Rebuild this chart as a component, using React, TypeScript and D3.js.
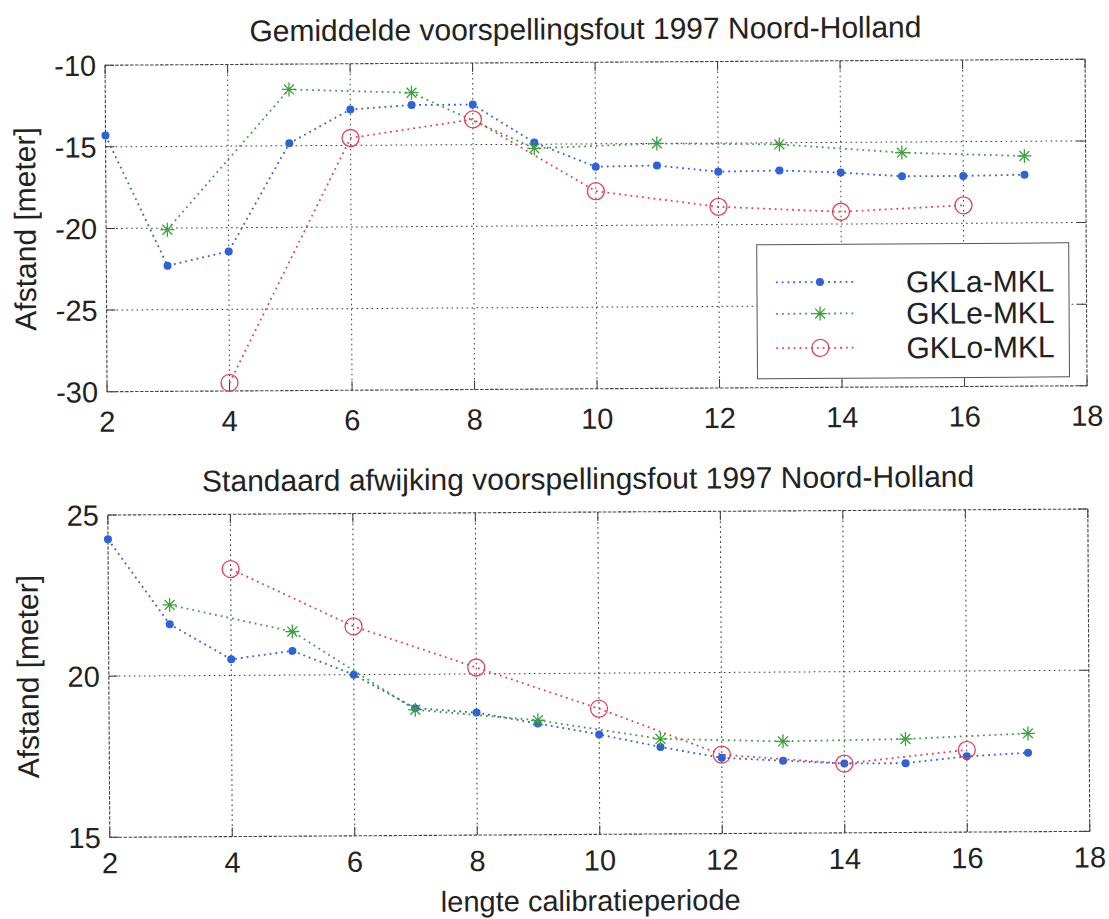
import React from "react";
import * as d3 from "d3";

// ---------- data ----------
const xA = [2, 3, 4, 5, 6, 7, 8, 9, 10, 11, 12, 13, 14, 15, 16, 17];
const xE = [3, 5, 7, 9, 11, 13, 15, 17];
const xO = [4, 6, 8, 10, 12, 14, 16];

const meanA = [-14.3, -22.3, -21.45, -14.85, -12.8, -12.55, -12.55, -14.9, -16.4, -16.35, -16.75, -16.7, -16.85, -17.1, -17.1, -17.05];
const meanE = [-20.1, -11.55, -11.8, -15.25, -15.0, -15.1, -15.65, -15.9];
const meanO = [-29.5, -14.55, -13.45, -17.9, -18.9, -19.25, -18.9];

const stdA = [24.25, 21.6, 20.5, 20.75, 20.0, 18.95, 18.8, 18.45, 18.1, 17.7, 17.35, 17.25, 17.15, 17.15, 17.35, 17.45];
const stdE = [22.2, 21.35, 18.9, 18.55, 17.95, 17.85, 17.9, 18.05];
const stdO = [23.3, 21.5, 20.2, 18.9, 17.45, 17.15, 17.55];

const seriesNames = ["GKLa-MKL", "GKLe-MKL", "GKLo-MKL"];
const xTicks = [2, 4, 6, 8, 10, 12, 14, 16, 18];
const yTicksTop = [-30, -25, -20, -15, -10];
const yTicksBottom = [15, 20, 25];

const titleTop = "Gemiddelde voorspellingsfout 1997 Noord-Holland";
const titleBottom = "Standaard afwijking voorspellingsfout 1997 Noord-Holland";
const yLabel = "Afstand [meter]";
const xLabel = "lengte calibratieperiode";

// ---------- style ----------
const FONT = "'Liberation Sans', Arial, Helvetica, sans-serif";
const COLORS = ["#2d62d8", "#3f9f3f", "#e4405a"];
const MARKERS = ["dot", "star", "circle"];
const GRID = "#3a3a3a";

const X0 = 107.5;
const X1 = 1087.5;

function Marker({ type, x, y, color }: { type: string; x: number; y: number; color: string }) {
  if (type === "dot") return <circle cx={x} cy={y} r={4} fill={color} />;
  if (type === "circle")
    return <circle cx={x} cy={y} r={8.5} fill="none" stroke={color} strokeWidth={1.3} />;
  const r = 7;
  const d2 = r * Math.SQRT1_2;
  const p = `M${x - r},${y}L${x + r},${y}M${x},${y - r}L${x},${y + r}M${x - d2},${y - d2}L${x + d2},${y + d2}M${x - d2},${y + d2}L${x + d2},${y - d2}`;
  return <path d={p} stroke={color} strokeWidth={1.3} fill="none" />;
}

type Series = { xs: number[]; ys: number[] };

function Panel({
  top,
  bottom,
  yDomain,
  yTicks,
  title,
  series,
  legend,
  tickGap,
}: {
  top: number;
  bottom: number;
  yDomain: [number, number];
  yTicks: number[];
  title: string;
  series: Series[];
  legend: boolean;
  tickGap: number;
}) {
  const x = d3.scaleLinear().domain([2, 18]).range([X0, X1]);
  const y = d3.scaleLinear().domain(yDomain).range([bottom, top]);
  const line = d3
    .line<[number, number]>()
    .x((d) => x(d[0]))
    .y((d) => y(d[1]));
  const tickLen = 9;

  // legend layout (pixel positions)
  const lg = { x: 758, y: 246, w: 312, h: 134, rows: [283.7, 315.2, 349.5], l0: 777, l1: 858, m: 821, tx: 907 };

  return (
    <g>
      {/* grid */}
      {xTicks.slice(1, -1).map((t) => (
        <line key={"gx" + t} x1={x(t)} x2={x(t)} y1={top} y2={bottom} stroke={GRID} strokeWidth={1} strokeDasharray="1.6,3.4" />
      ))}
      {yTicks.slice(1, -1).map((t) => (
        <line key={"gy" + t} x1={X0} x2={X1} y1={y(t)} y2={y(t)} stroke={GRID} strokeWidth={1} strokeDasharray="1.6,3.4" />
      ))}
      {/* ticks */}
      {xTicks.map((t) => (
        <g key={"tx" + t}>
          <line x1={x(t)} x2={x(t)} y1={bottom} y2={bottom - tickLen} stroke={GRID} strokeWidth={1} />
          <line x1={x(t)} x2={x(t)} y1={top} y2={top + tickLen} stroke={GRID} strokeWidth={1} />
        </g>
      ))}
      {yTicks.map((t) => (
        <g key={"ty" + t}>
          <line x1={X0} x2={X0 + tickLen} y1={y(t)} y2={y(t)} stroke={GRID} strokeWidth={1} />
          <line x1={X1} x2={X1 - tickLen} y1={y(t)} y2={y(t)} stroke={GRID} strokeWidth={1} />
        </g>
      ))}
      {/* box */}
      <rect x={X0} y={top} width={X1 - X0} height={bottom - top} fill="none" stroke="#444" strokeWidth={1.1} strokeDasharray="3.5,1.5" />

      {/* series */}
      {series.map((s, i) => {
        const pts = s.xs.map((xv, j) => [xv, s.ys[j]] as [number, number]);
        return (
          <g key={"s" + i}>
            <path d={line(pts) || ""} fill="none" stroke={COLORS[i]} strokeWidth={1.8} strokeDasharray="1.8,4" />
            {pts.map((p, j) => (
              <Marker key={j} type={MARKERS[i]} x={x(p[0])} y={y(p[1])} color={COLORS[i]} />
            ))}
          </g>
        );
      })}

      {/* tick labels */}
      {xTicks.map((t) => (
        <text key={"lx" + t} x={x(t)} y={bottom + tickGap} textAnchor="middle" fontSize={29} fill="#222">
          {t}
        </text>
      ))}
      {yTicks.map((t) => (
        <text key={"ly" + t} x={X0 - 9} y={y(t)} dy="0.36em" textAnchor="end" fontSize={29} fill="#222">
          {t}
        </text>
      ))}

      {/* title */}
      <text x={588} y={top - 23} textAnchor="middle" fontSize={30} fill="#222">
        {title}
      </text>
      {/* y label */}
      <text transform={`translate(37,${(top + bottom) / 2}) rotate(-90)`} textAnchor="middle" fontSize={30} fill="#222">
        {yLabel}
      </text>

      {legend && (
        <g>
          <rect x={lg.x} y={lg.y} width={lg.w} height={lg.h} fill="#fff" stroke="#555" strokeWidth={1} />
          {seriesNames.map((name, i) => (
            <g key={name}>
              <line x1={lg.l0} x2={lg.l1} y1={lg.rows[i]} y2={lg.rows[i]} stroke={COLORS[i]} strokeWidth={1.8} strokeDasharray="1.8,4" />
              <Marker type={MARKERS[i]} x={lg.m} y={lg.rows[i]} color={COLORS[i]} />
              <text x={lg.tx} y={lg.rows[i]} dy="0.36em" fontSize={30} fill="#222">
                {name}
              </text>
            </g>
          ))}
        </g>
      )}
    </g>
  );
}

export default function App() {
  return (
    <svg
      width={1109}
      height={919}
      style={{ position: "absolute", left: 0, top: 0, background: "#fff" }}
      fontFamily={FONT}
    >
      <rect width={1109} height={919} fill="#fff" />
      <g transform="rotate(-0.35 555 460)">
        <Panel
          top={62.5}
          bottom={389}
          yDomain={[-30, -10]}
          yTicks={yTicksTop}
          title={titleTop}
          series={[
            { xs: xA, ys: meanA },
            { xs: xE, ys: meanE },
            { xs: xO, ys: meanO },
          ]}
          legend={true}
          tickGap={40}
        />
        <Panel
          top={512.3}
          bottom={834.6}
          yDomain={[15, 25]}
          yTicks={yTicksBottom}
          title={titleBottom}
          series={[
            { xs: xA, ys: stdA },
            { xs: xE, ys: stdE },
            { xs: xO, ys: stdO },
          ]}
          legend={false}
          tickGap={36}
        />
        <text x={588} y={911} textAnchor="middle" fontSize={29} fill="#222">
          {xLabel}
        </text>
      </g>
    </svg>
  );
}
